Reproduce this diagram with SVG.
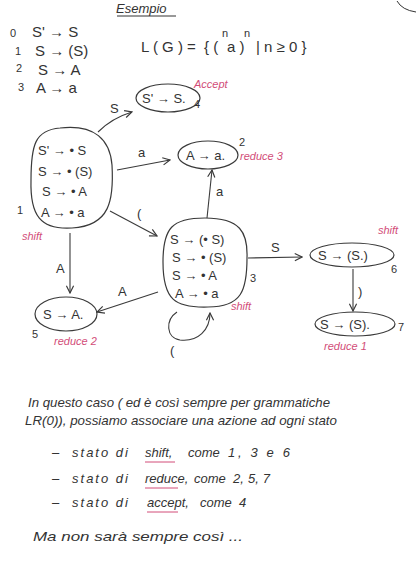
<svg xmlns="http://www.w3.org/2000/svg" width="416" height="567" viewBox="0 0 416 567">
<defs>
<marker id="arr" viewBox="0 0 10 10" refX="9" refY="5" markerWidth="9" markerHeight="9" orient="auto" markerUnits="userSpaceOnUse">
<path d="M1,1 L9,5 L1,9" fill="none" stroke="#3a3a3a" stroke-width="1.3"/>
</marker>
</defs>
<style>
text{font-family:"Liberation Sans","DejaVu Sans",sans-serif;fill:#333;}
.g{font-size:15px;}
.s{font-size:13px;}
.n{font-size:11px;}
.p{fill:#d24d78;font-size:11px;font-style:italic;}
.t{font-size:13px;font-style:italic;}
.shape{fill:none;stroke:#3a3a3a;stroke-width:1.2;}
.edge{fill:none;stroke:#3a3a3a;stroke-width:1.1;marker-end:url(#arr);}
.lbl{font-size:13px;}
.ul{stroke:#d24d78;stroke-width:1;}
</style>
<rect width="416" height="567" fill="#ffffff"/>
<!-- header -->
<g id="title">
<text x="116" y="13" class="t" font-size="13">Esempio</text>
<line x1="117" y1="16" x2="176" y2="16" stroke="#333" stroke-width="1"/>
<path d="M397,1 Q402,10 416,12" fill="none" stroke="#333" stroke-width="1"/>
</g>
<g id="grammar">
<text x="10" y="37" class="n">0</text><text x="32" y="37" class="g">S' → S</text>
<text x="15" y="55" class="n">1</text><text x="35" y="56" class="g">S → (S)</text>
<text x="16" y="72" class="n">2</text><text x="38" y="75" class="g">S → A</text>
<text x="18" y="91" class="n">3</text><text x="36" y="93" class="g">A → a</text>
</g>
<g id="language">
<text x="141" y="52" class="g">L ( G ) =</text>
<text x="204" y="52" class="g">{ (</text>
<text x="227" y="52" class="g">a )</text>
<text x="256" y="52" class="g">| n ≥ 0 }</text>
<text x="222" y="37" class="n">n</text><text x="244" y="37" class="n">n</text>
</g>
<!-- connectors -->
<g id="connectors">
<path class="edge" d="M98,132 Q112,118 132,112"/>
<text x="110" y="113" class="lbl">S</text>
<path class="edge" d="M117,170 L170,160"/>
<text x="138" y="157" class="lbl">a</text>
<path class="edge" d="M110,211 L157,236"/>
<text x="137" y="218" class="lbl">(</text>
<path class="edge" d="M207,218 L212,170"/>
<text x="216" y="196" class="lbl">a</text>
<path class="edge" d="M70,233 L70,293"/>
<text x="56" y="273" class="lbl">A</text>
<path class="edge" d="M158,292 L97,312"/>
<text x="118" y="296" class="lbl">A</text>
<path class="edge" d="M248,258 L302,257"/>
<text x="271" y="252" class="lbl">S</text>
<path class="edge" d="M353,269 L353,311"/>
<text x="358" y="296" class="lbl">)</text>
<path class="edge" d="M177,312 C165,320 166,338 180,340 C198,342 210,330 210,313"/>
<text x="170" y="355" class="lbl">(</text>
</g>
<!-- nodes -->
<g id="state1">
<path class="shape" d="M60,128 C95,124 110,140 112,165 C114,200 110,226 72,228 C40,230 30,215 31,180 C31,145 35,130 60,128 Z"/>
<text x="38" y="155" class="s">S' → • S</text>
<text x="38" y="176" class="s">S → • (S)</text>
<text x="42" y="196" class="s">S → • A</text>
<text x="41" y="217" class="s">A → • a</text>
<text x="17" y="214" class="n">1</text>
<text x="22" y="240" class="p">shift</text>
</g>
<g id="state4">
<ellipse class="shape" cx="168" cy="98" rx="32" ry="14"/>
<text x="142" y="103" class="s">S' → S.</text>
<text x="194" y="108" class="n">4</text>
<text x="194" y="88" class="p">Accept</text>
</g>
<g id="state2">
<ellipse class="shape" cx="208" cy="155" rx="30" ry="14"/>
<text x="186" y="160" class="s">A → a.</text>
<text x="239" y="146" class="n">2</text>
<text x="240" y="160" class="p">reduce 3</text>
</g>
<g id="state3">
<path class="shape" d="M205,218 C240,218 248,232 247,258 C247,290 242,307 208,307 C175,308 163,300 163,262 C163,228 172,218 205,218 Z"/>
<text x="170" y="244" class="s">S → (• S)</text>
<text x="172" y="262" class="s">S → • (S)</text>
<text x="172" y="280" class="s">S → • A</text>
<text x="175" y="298" class="s">A → • a</text>
<text x="250" y="282" class="n">3</text>
<text x="231" y="310" class="p">shift</text>
</g>
<g id="state6">
<ellipse class="shape" cx="352" cy="255" rx="42" ry="12"/>
<text x="318" y="260" class="s">S → (S.)</text>
<text x="391" y="273" class="n">6</text>
<text x="378" y="234" class="p">shift</text>
</g>
<g id="state7">
<ellipse class="shape" cx="355" cy="324" rx="40" ry="12"/>
<text x="320" y="329" class="s">S → (S).</text>
<text x="398" y="331" class="n">7</text>
<text x="324" y="350" class="p">reduce 1</text>
</g>
<g id="state5">
<ellipse class="shape" cx="66" cy="314" rx="31" ry="17"/>
<text x="43" y="319" class="s">S → A.</text>
<text x="32" y="338" class="n">5</text>
<text x="54" y="345" class="p">reduce 2</text>
</g>
<!-- paragraph -->
<g id="notes">
<text x="28" y="407" class="t" textLength="302" lengthAdjust="spacingAndGlyphs">In questo caso ( ed è così sempre per grammatiche</text>
<text x="25" y="425" class="t" textLength="312" lengthAdjust="spacingAndGlyphs">LR(0)), possiamo associare una azione ad ogni stato</text>
<text y="457" class="t"><tspan x="52">–</tspan><tspan x="72" textLength="56" lengthAdjust="spacing">stato di</tspan><tspan x="145">shift,</tspan><tspan x="188">come</tspan><tspan x="228" textLength="62" lengthAdjust="spacing">1, 3 e 6</tspan></text>
<line class="ul" x1="145" y1="462" x2="175" y2="462"/>
<text y="483" class="t"><tspan x="52">–</tspan><tspan x="72" textLength="56" lengthAdjust="spacing">stato di</tspan><tspan x="145">reduce,</tspan><tspan x="194">come</tspan><tspan x="233" textLength="37" lengthAdjust="spacing">2, 5, 7</tspan></text>
<line class="ul" x1="145" y1="488" x2="178" y2="488"/>
<text y="507" class="t"><tspan x="52">–</tspan><tspan x="72" textLength="56" lengthAdjust="spacing">stato di</tspan><tspan x="147">accept,</tspan><tspan x="200">come</tspan><tspan x="239">4</tspan></text>
<line class="ul" x1="147" y1="512" x2="178" y2="512"/>
<text x="33" y="541" class="t" textLength="210" lengthAdjust="spacingAndGlyphs">Ma non sarà sempre così ...</text>
</g>
</svg>
